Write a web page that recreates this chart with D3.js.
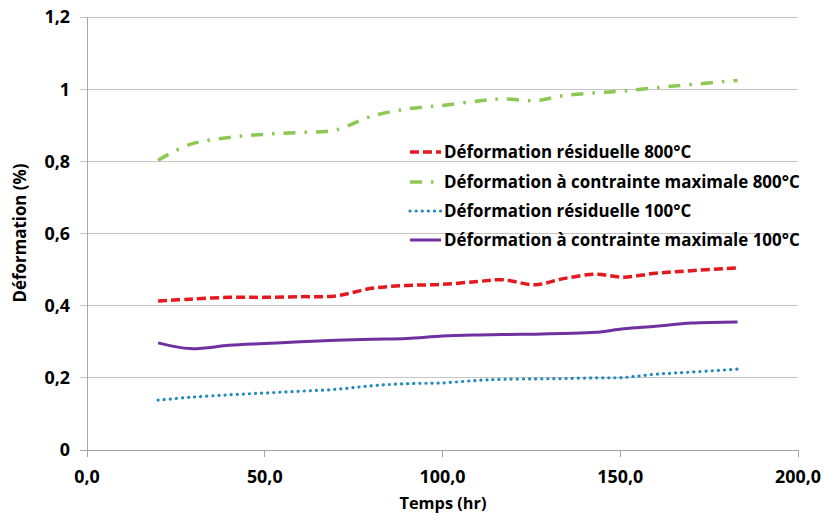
<!DOCTYPE html>
<html><head><meta charset="utf-8">
<script src="https://cdn.jsdelivr.net/npm/d3@7"></script>
<style>
body{margin:0;background:#fff;}
svg text{font-family:"Open Sans",Lato,sans-serif;font-weight:700;fill:#000;}
</style></head>
<body><svg id="c" width="824" height="520"></svg>
<script>
const times = [20, 29, 40, 50, 60, 70, 80, 90, 100, 110, 117, 126, 134, 143, 151, 160, 170, 183];
const residual800 = [0.413, 0.418, 0.423, 0.423, 0.425, 0.427, 0.448, 0.456, 0.459, 0.467, 0.472, 0.458, 0.475, 0.487, 0.479, 0.490, 0.497, 0.505];
const maxStress800 = [0.803, 0.847, 0.866, 0.875, 0.880, 0.887, 0.925, 0.945, 0.955, 0.967, 0.973, 0.968, 0.982, 0.990, 0.995, 1.004, 1.013, 1.024];
const residual100 = [0.138, 0.146, 0.153, 0.158, 0.163, 0.168, 0.178, 0.184, 0.186, 0.193, 0.196, 0.197, 0.198, 0.200, 0.201, 0.210, 0.216, 0.224];
const maxStress100 = [0.297, 0.281, 0.290, 0.295, 0.300, 0.304, 0.307, 0.309, 0.316, 0.319, 0.320, 0.321, 0.323, 0.326, 0.336, 0.343, 0.352, 0.355];
const seriesNames = ["Déformation résiduelle 800°C", "Déformation à contrainte maximale 800°C", "Déformation résiduelle 100°C", "Déformation à contrainte maximale 100°C"];
const xTicks = [0, 50, 100, 150, 200];
const yTicks = [0, 0.2, 0.4, 0.6, 0.8, 1, 1.2];
const xTitle = "Temps (hr)";
const yTitle = "Déformation (%)";

const series = [
  {name: seriesNames[0], values: residual800, color: "#e3191d", dash: "9,4", width: 3.5, cap: "butt"},
  {name: seriesNames[1], values: maxStress800, color: "#8dc853", dash: "12,9,2.5,9", width: 3.5, cap: "butt"},
  {name: seriesNames[2], values: residual100, color: "#2389bd", dash: "0.1,6", width: 3.2, cap: "round"},
  {name: seriesNames[3], values: maxStress100, color: "#7030a0", dash: null, width: 3, cap: "butt"}
];

const svg = d3.select("#c");
const L = 87, R = 798, T = 17, B = 450;
const x = d3.scaleLinear().domain([0, 200]).range([L, R]);
const y = d3.scaleLinear().domain([0, 1.2]).range([B, T]);
const fmtX = d => d3.format(".1f")(d).replace(".", ",");
const fmtY = d => String(+d.toFixed(1)).replace(".", ",");

// scale a text selection's font so that a reference node reaches a target width
function fit(sel, node, target, base) {
  sel.style("font-size", base + "px");
  const w = node.getComputedTextLength();
  sel.style("font-size", (base * target / w).toFixed(2) + "px");
}

// gridlines
svg.append("g").selectAll("line").data(yTicks).join("line")
  .attr("x1", L - 7).attr("x2", R).attr("y1", d => y(d)).attr("y2", d => y(d))
  .attr("stroke", d => d === 0 ? "#a6a6a6" : "#c6c6c6").attr("stroke-width", 1)
  .attr("shape-rendering", "crispEdges");
svg.append("line").attr("x1", L).attr("x2", L).attr("y1", T).attr("y2", B + 7)
  .attr("stroke", "#a6a6a6").attr("shape-rendering", "crispEdges");
svg.append("g").selectAll("line").data(xTicks.slice(1)).join("line")
  .attr("x1", d => x(d)).attr("x2", d => x(d)).attr("y1", B).attr("y2", B + 7)
  .attr("stroke", "#a6a6a6").attr("shape-rendering", "crispEdges");

// tick labels
const yl = svg.append("g").selectAll("text").data(yTicks).join("text")
  .attr("x", 70).attr("y", d => y(d)).attr("dy", "0.36em")
  .attr("text-anchor", "end").text(fmtY);
const xl = svg.append("g").selectAll("text").data(xTicks).join("text")
  .attr("x", d => x(d)).attr("y", 483)
  .attr("text-anchor", "middle").text(fmtX);
fit(xl, xl.nodes()[4], 46, 17);
yl.style("font-size", xl.style("font-size"));

// axis titles
const xt = svg.append("text").attr("x", 443).attr("y", 509).attr("text-anchor", "middle").text(xTitle);
fit(xt, xt.node(), 87, 16);
const yt = svg.append("text").attr("transform", "translate(26,233) rotate(-90)")
  .attr("text-anchor", "middle").text(yTitle);
fit(yt, yt.node(), 139, 16);

// lines
const line = d3.line().x(d => x(d[0])).y(d => y(d[1])).curve(d3.curveCatmullRom.alpha(0.5));
svg.append("g").selectAll("path").data(series).join("path")
  .attr("d", s => line(times.map((t, i) => [t, s.values[i]])))
  .attr("fill", "none").attr("stroke", s => s.color).attr("stroke-width", s => s.width)
  .attr("stroke-dasharray", s => s.dash).attr("stroke-linecap", s => s.cap);

// legend
const legY = [152, 182, 211, 240];
const lg = svg.append("g").selectAll("g").data(series).join("g")
  .attr("transform", (s, i) => `translate(0,${legY[i]})`);
lg.append("line").attr("x1", 410).attr("x2", 441).attr("y1", 0).attr("y2", 0)
  .attr("stroke", s => s.color).attr("stroke-width", s => s.width)
  .attr("stroke-dasharray", s => s.dash).attr("stroke-linecap", s => s.cap);
const lt = lg.append("text").attr("x", 444).attr("y", 0).attr("dy", "0.36em").text(s => s.name);
fit(lt, lt.nodes()[1], 356, 16);
</script></body></html>
